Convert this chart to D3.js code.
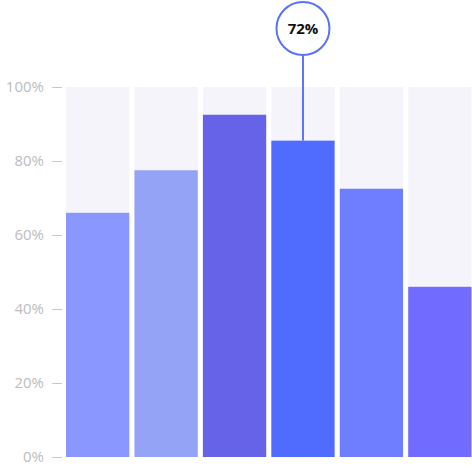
<!DOCTYPE html>
<html><head><meta charset="utf-8">
<script src="https://cdn.jsdelivr.net/npm/d3@7"></script>
<style>body{margin:0;background:#fff}svg{display:block}</style>
</head><body>
<svg id="c" width="472" height="468"></svg>
<script>
const categories = ["A","B","C","D","E","F"];
const values = [66, 77.5, 92.5, 85.5, 72.5, 46];
const colors = ["#8a97ff","#94a3f5","#6763e8","#506cff","#6f7eff","#716cff"];
const tickValues = [0,20,40,60,80,100];
const highlightIndex = 3;
const highlightLabel = "72%";

const svg = d3.select("#c");
const x = d3.scaleBand().domain(categories).range([66, 471.5]).paddingInner(0.075).paddingOuter(0);
const y = d3.scaleLinear().domain([0,100]).range([457, 87]);

// background bars
svg.append("g").selectAll("rect").data(categories).join("rect")
  .attr("x", d => x(d)).attr("width", x.bandwidth())
  .attr("y", y(100)).attr("height", y(0) - y(100))
  .attr("fill", "#f5f4fa");

svg.append("g").selectAll("rect").data(values).join("rect")
  .attr("x", (d,i) => x(categories[i])).attr("width", x.bandwidth())
  .attr("y", d => y(d)).attr("height", d => y(0) - y(d))
  .attr("fill", (d,i) => colors[i]);

const axis = d3.axisLeft(y).tickValues(tickValues).tickFormat(d => d + "%").tickSize(10).tickPadding(8);
const ag = svg.append("g").attr("transform", "translate(62,0)").call(axis);
ag.select(".domain").remove();
ag.selectAll("line").attr("stroke", "#c8c8c8");
ag.selectAll("text").attr("fill", "#bdbdbd").style("font-family", "'Open Sans', sans-serif").style("font-size", "15px");

// annotation
const cx = x(categories[highlightIndex]) + x.bandwidth()/2;
const cy = 28.5, r = 26.5;
svg.append("line").attr("x1", cx).attr("x2", cx).attr("y1", cy + r).attr("y2", y(values[highlightIndex]))
  .attr("stroke", "#5a72f7").attr("stroke-width", 2);
svg.append("circle").attr("cx", cx).attr("cy", cy).attr("r", r)
  .attr("fill", "#fff").attr("stroke", "#5a72f7").attr("stroke-width", 2);
svg.append("text").attr("x", cx).attr("y", cy).attr("dy", "0.35em").attr("text-anchor", "middle")
  .style("font-family", "'Open Sans', sans-serif").style("font-weight", "bold").style("font-size", "15px")
  .attr("fill", "#111").text(highlightLabel);
</script>
</body></html>
